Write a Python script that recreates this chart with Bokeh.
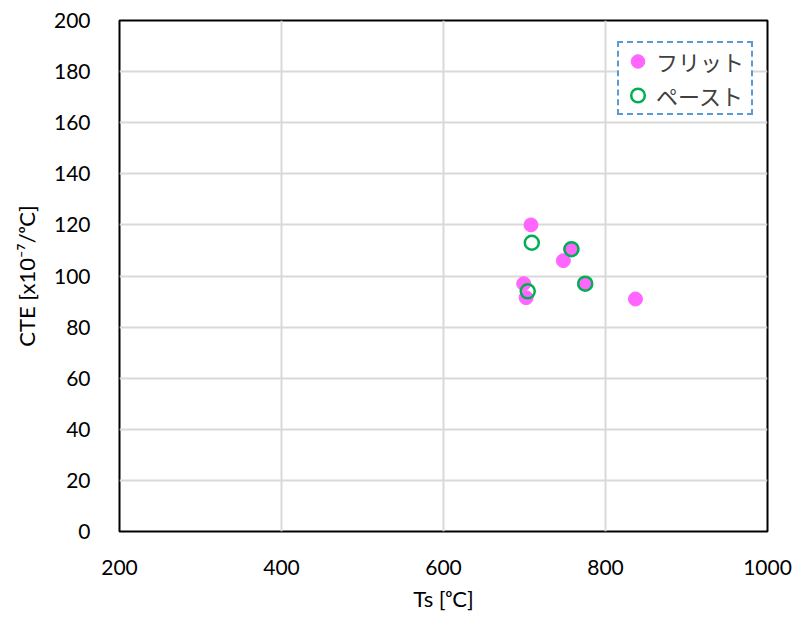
from bokeh.plotting import figure
from bokeh.models import Legend, LegendItem, FixedTicker, Range1d
from bokeh.embed import file_html
from bokeh.resources import INLINE

# Data
frit_ts = [708, 757, 748, 699, 702, 774, 837]
frit_cte = [120, 110.5, 106, 97, 91.5, 97, 91]
paste_ts = [709, 758, 704, 775]
paste_cte = [113, 110.5, 94, 97]

x_ticks = [200, 400, 600, 800, 1000]
y_ticks = [0, 20, 40, 60, 80, 100, 120, 140, 160, 180, 200]

FONT = "Lato"

p = figure(width=795, height=621, output_backend="svg", toolbar_location=None,
           x_range=Range1d(200, 1000), y_range=Range1d(0, 200),
           min_border_left=119, min_border_right=28, min_border_top=20, min_border_bottom=90)
p.background_fill_color = "white"
p.border_fill_color = "white"
p.outline_line_color = "black"
p.outline_line_width = 2

for ax in (p.xaxis, p.yaxis):
    ax.axis_line_color = None
    ax.major_tick_line_color = None
    ax.minor_tick_line_color = None
    ax.major_label_text_font = FONT
    ax.major_label_text_font_size = "21px"
    ax.major_label_text_color = "#000000"
    ax.axis_label_text_font = FONT
    ax.axis_label_text_font_size = "22px"
    ax.axis_label_text_font_style = "normal"
    ax.axis_label_text_color = "#000000"

p.xaxis.ticker = FixedTicker(ticks=x_ticks)
p.yaxis.ticker = FixedTicker(ticks=y_ticks)
p.xaxis.major_label_standoff = 22
p.yaxis.major_label_standoff = 23
p.xaxis.axis_label = "Ts [ᵒC]"
p.yaxis.axis_label = "CTE [x10⁻⁷/ᵒC]"
p.xaxis.axis_label_standoff = 7
p.yaxis.axis_label_standoff = 11

p.xgrid.ticker = FixedTicker(ticks=x_ticks)
p.ygrid.ticker = FixedTicker(ticks=y_ticks)
p.grid.grid_line_color = "#D9D9D9"
p.grid.grid_line_width = 2

r1 = p.scatter(frit_ts, frit_cte, size=14, fill_color="#FF66FF", line_color="#FF66FF", line_width=1)
r2 = p.scatter(paste_ts, paste_cte, size=14, fill_color=None, line_color="#00B050", line_width=2.5)

legend = Legend(items=[LegendItem(label="フリット", renderers=[r1]),
                       LegendItem(label="ペースト", renderers=[r2])],
                location=(498, 416))
legend.label_text_font = "Noto Sans CJK JP"
legend.label_text_font_size = "22px"
legend.label_text_color = "#404040"
legend.border_line_color = "#5B9BD5"
legend.border_line_alpha = 1
legend.border_line_width = 2
legend.border_line_dash = "8 3"
legend.background_fill_color = "white"
legend.background_fill_alpha = 1
legend.padding = 1
legend.spacing = 0
legend.glyph_width = 35
legend.glyph_height = 34
legend.label_height = 34
legend.label_width = 94
legend.label_standoff = 1
legend.margin = 0
p.add_layout(legend)

open("out.html", "w").write(file_html(p, INLINE))
